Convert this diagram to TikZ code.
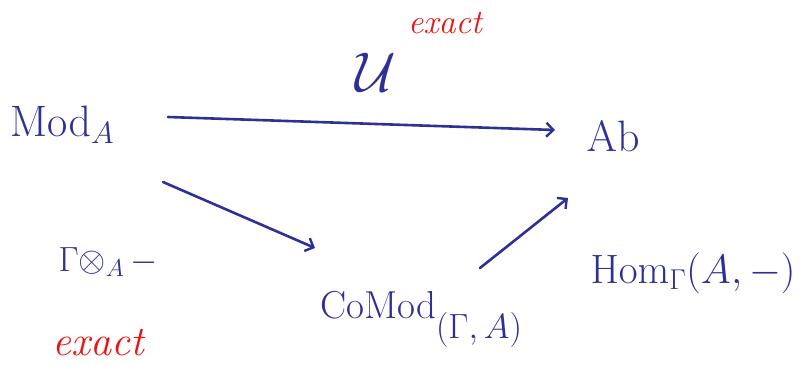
\RequirePackage{fix-cm}
\documentclass[tikz,border=0pt]{standalone}
\usetikzlibrary{arrows.meta,calc}
\definecolor{ink}{RGB}{46,48,150}
\definecolor{redink}{RGB}{235,20,20}
\tikzset{
  lbl/.style={inner sep=0pt, text=ink},
  note/.style={inner sep=0pt, text=redink, font=\fontsize{34}{38}\selectfont\itshape},
  arr/.style={draw=ink, line width=2.6pt, line cap=round, -{Straight Barb[length=7pt,width=14pt,line width=2.4pt]}}
}
\begin{document}
\begin{tikzpicture}[x=1pt,y=-1pt]
\useasboundingbox (0,0) rectangle (803,365);
\node[lbl,font=\fontsize{44}{50}\selectfont] (modA) at (62,125) {$\mathrm{Mod}_A$};
\node[lbl,font=\fontsize{44}{50}\selectfont] (ab) at (613,136) {$\mathrm{Ab}$};
\node[lbl,font=\fontsize{39}{46}\selectfont,anchor=base west] (comod) at (320,318)
  {$\mathrm{CoMod}$\lower20pt\hbox{\fontsize{35}{40}\selectfont$(\Gamma,A)$}};
\node[lbl,font=\fontsize{56}{60}\selectfont] (U) at (376,72) {$\mathcal{U}$};
\node[note] (ex1) at (445,23) {exact};
\node[lbl,font=\fontsize{35}{42}\selectfont] (tens) at (108,262) {$\Gamma{\otimes_A}\,-$};
\node[note,font=\fontsize{42}{46}\selectfont\itshape] (ex2) at (98,343) {exact};
\node[lbl,font=\fontsize{41}{46}\selectfont] (hom) at (693,273) {$\mathrm{Hom}_\Gamma(A,-)$};
\draw[arr] ($(modA.center)+(106,-8)$) -- ($(ab.center)+(-58,-6)$);
\draw[arr] ($(modA.center)+(101,57)$) -- ($(comod.base west)+(-5,-70)$);
\draw[arr] ($(comod.base west)+(160,-50)$) -- ($(ab.center)+(-45,62)$);
\end{tikzpicture}
\end{document}
